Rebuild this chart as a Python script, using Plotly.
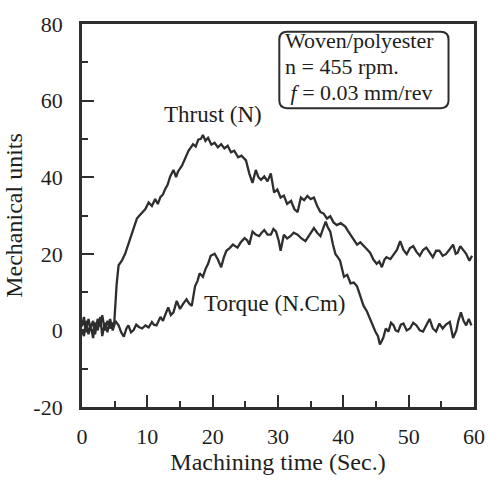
import plotly.graph_objects as go

thrust_t = [0, 0.3, 0.6, 1.0, 1.3, 1.7, 2.0, 2.4, 2.8, 3.1, 3.5, 3.9, 4.3, 4.7, 4.9, 5.3, 5.6, 6.1, 6.6, 7.1,
            7.5, 7.9, 8.4, 8.8, 9.2, 9.7, 10.2, 10.7, 11.2, 11.6, 12.0, 12.4, 12.7, 13.1, 13.5, 14.0, 14.4, 14.7,
            15.3, 15.8, 16.3, 17.0, 17.4, 17.8, 18.2, 18.5, 18.9, 19.3, 19.8, 20.3, 20.8, 21.3, 21.8, 22.3, 22.8,
            23.3, 23.9, 24.4, 25.1, 25.6, 26.1, 26.6, 27.0, 27.4, 27.9, 28.4, 28.9, 29.4, 29.9, 30.4, 30.9, 31.4,
            32.0, 32.5, 33.0, 33.5, 34.0, 34.5, 35.0, 35.5, 36.0, 36.5, 37.0, 37.5, 38.0, 38.5, 39.0, 39.6, 40.3,
            40.7, 41.1, 41.6, 42.1, 42.6, 43.1, 43.6, 44.1, 44.6, 45.1, 45.5, 45.9, 46.3, 46.6, 47.2, 47.7, 48.2,
            48.7, 49.2, 49.7, 50.2, 50.7, 51.2, 51.7, 52.2, 52.7, 53.2, 53.7, 54.2, 54.7, 55.2, 55.7, 56.2, 56.8,
            57.2, 57.5, 57.9, 58.3, 58.8, 59.3, 59.7]
thrust_v = [1.0, 3.5, -0.5, 3.0, 0.5, 2.5, -1.0, 3.0, 1.0, 4.0, 0.0, 2.5, 0.5, 2.0, 1.0, 12.0, 17.0, 18.2, 20.0, 22.4,
            24.5, 26.7, 29.2, 30.0, 30.9, 31.7, 33.4, 32.5, 34.3, 33.0, 34.8, 35.5, 36.8, 38.0, 40.2, 41.9, 40.0, 41.5,
            43.0, 45.2, 46.9, 48.6, 48.0, 49.8, 50.0, 51.0, 49.5, 50.3, 48.5, 49.0, 47.8, 48.6, 47.5, 48.2, 46.5,
            46.9, 45.2, 45.6, 44.4, 41.0, 38.5, 41.9, 40.0, 39.3, 40.2, 38.9, 41.0, 36.0, 36.8, 34.7, 35.2, 33.0,
            33.8, 31.7, 30.9, 34.7, 34.0, 35.1, 34.3, 34.7, 32.5, 30.9, 30.5, 29.2, 29.8, 28.2, 27.5, 28.0, 27.1,
            26.0, 25.0, 23.8, 22.4, 23.0, 22.0, 21.0, 20.3, 18.5, 17.4, 18.0, 16.5, 18.5, 19.1, 18.6, 19.9, 21.0,
            23.3, 21.0, 19.9, 21.5, 22.0, 20.5, 19.5, 21.0, 21.6, 20.3, 19.1, 20.8, 20.8, 19.5, 19.9, 21.0, 22.4,
            20.0, 20.3, 22.0, 21.2, 20.0, 18.2, 19.5]

torque_t = [0, 0.3, 0.6, 1.0, 1.3, 1.7, 2.0, 2.4, 2.8, 3.1, 3.5, 3.9, 4.3, 4.7, 5.1, 5.6, 6.0, 6.4, 6.8, 7.1,
            7.5, 7.9, 8.3, 8.7, 9.2, 9.7, 10.2, 10.7, 11.0, 11.4, 12.0, 12.4, 12.7, 13.2, 13.6, 14.0, 14.5, 15.0,
            15.5, 16.0, 16.4, 16.8, 17.3, 17.7, 18.0, 18.5, 18.9, 19.3, 19.7, 20.3, 20.8, 21.3, 21.7, 22.1, 22.6,
            23.1, 23.8, 24.3, 24.9, 25.3, 25.6, 26.1, 26.6, 27.1, 27.5, 27.9, 28.4, 28.9, 29.3, 29.7, 30.1, 30.4,
            30.9, 31.4, 31.9, 32.4, 33.0, 33.6, 34.2, 34.8, 35.5, 36.0, 36.5, 37.0, 37.3, 37.6, 38.0, 38.4, 38.8,
            39.2, 39.5, 40.1, 40.6, 41.1, 41.6, 42.1, 42.6, 43.1, 43.6, 44.1, 44.5, 44.9, 45.3, 45.6, 46.1, 46.5,
            46.9, 47.3, 47.7, 48.0, 48.4, 48.8, 49.2, 49.7, 50.2, 50.7, 51.2, 51.7, 52.2, 52.7, 53.2, 53.7, 54.2,
            54.7, 55.2, 55.7, 56.3, 56.8, 57.3, 57.6, 58.0, 58.4, 58.8, 59.2, 59.6]
torque_v = [0.0, -1.5, 2.5, -1.0, 1.5, -2.0, 2.0, 0.0, 3.5, -1.5, 2.0, -0.5, 3.0, 0.0, 2.5, 1.3, -0.5, -1.6, 0.5, 1.3,
            -0.5, 0.1, 1.5, 0.9, 0.5, 1.3, 0.8, 2.2, 1.5, 1.3, 3.5, 2.5, 3.9, 6.0, 4.0, 4.7, 7.7, 5.6,
            7.0, 8.1, 7.0, 6.4, 11.5, 13.0, 14.9, 14.0, 16.0, 17.4, 19.5, 20.0, 18.5, 16.5, 19.0, 20.8, 21.5,
            22.4, 21.6, 23.0, 24.1, 23.5, 22.4, 25.8, 25.0, 24.6, 25.5, 26.2, 25.0, 25.0, 26.5, 25.8, 23.5, 20.8,
            25.0, 24.0, 24.6, 25.5, 25.0, 24.0, 23.3, 25.0, 26.7, 25.5, 24.6, 27.0, 28.4, 27.0, 25.8, 22.5, 19.9,
            19.0, 18.2, 14.0, 14.5, 12.3, 12.5, 11.5, 9.0, 6.4, 5.0, 3.0, 1.0, -0.3, -1.5, -3.7, -2.0, 0.5,
            -0.3, 2.0, 1.3, 0.0, -0.3, 1.5, 1.8, 0.0, 0.5, 2.0, 1.3, 0.0, -0.3, 1.5, 3.0, 0.5, -0.3,
            1.8, 0.5, 1.5, 2.2, -2.0, 0.0, 2.5, 4.7, 2.5, 1.3, 3.0, 1.3]

x_ticks = [0, 10, 20, 30, 40, 50, 60]
x_tick_text = ["0", "10", "20", "30", "40", "50", "60"]
y_ticks = [-20, 0, 20, 40, 60, 80]
y_tick_text = ["-20", "0", "20", "40", "60", "80"]

ink = "#2e2e2e"
txt = "#1e1e1e"
font = "Liberation Serif"

fig = go.Figure()
fig.add_trace(go.Scatter(x=thrust_t, y=thrust_v, mode="lines", name="Thrust (N)",
                         line=dict(color=ink, width=2.3)))
fig.add_trace(go.Scatter(x=torque_t, y=torque_v, mode="lines", name="Torque (N.Cm)",
                         line=dict(color=ink, width=2.3)))

axis_common = dict(showgrid=False, zeroline=False, showline=True, linecolor=ink, linewidth=2.8,
                   mirror=True, ticks="inside", tickcolor=ink, tickwidth=2, ticklen=12,
                   tickfont=dict(family=font, size=22, color=txt))
fig.update_xaxes(range=[0, 60], tickvals=x_ticks, ticktext=x_tick_text, ticklabelstandoff=8,
                 minor=dict(dtick=5, ticks="inside", ticklen=6, tickwidth=2, tickcolor=ink),
                 title=dict(text="Machining time (Sec.)", font=dict(family=font, size=24, color=txt),
                            standoff=4),
                 **axis_common)
fig.update_yaxes(range=[-20, 80], tickvals=y_ticks, ticktext=y_tick_text, ticklabelstandoff=12,
                 minor=dict(dtick=10, ticks="inside", ticklen=6, tickwidth=2, tickcolor=ink),
                 title=dict(text="Mechanical units", font=dict(family=font, size=24, color=txt),
                            standoff=4),
                 **axis_common)

# rounded box
x0, x1, y0, y1 = 30.2, 56.1, 58.0, 78.0
rx, ry = 1.2, 2.0
path = (f"M {x0+rx},{y0} L {x1-rx},{y0} Q {x1},{y0} {x1},{y0+ry} L {x1},{y1-ry} "
        f"Q {x1},{y1} {x1-rx},{y1} L {x0+rx},{y1} Q {x0},{y1} {x0},{y1-ry} L {x0},{y0+ry} "
        f"Q {x0},{y0} {x0+rx},{y0} Z")
fig.add_shape(type="path", path=path, xref="x", yref="y", line=dict(color=ink, width=2))

box_lines = ["Woven/polyester", "n = 455 rpm.", " <i>f</i> = 0.03 mm/rev"]
box_y = [75.6, 68.8, 62.0]
for t, yy in zip(box_lines, box_y):
    fig.add_annotation(x=30.8, y=yy, text=t, showarrow=False, xanchor="left", yanchor="middle",
                       font=dict(family=font, size=22, color=txt))

fig.add_annotation(x=20.0, y=56.5, text="Thrust (N)", showarrow=False,
                   font=dict(family=font, size=23, color=txt))
fig.add_annotation(x=29.4, y=6.9, text="Torque (N.Cm)", showarrow=False,
                   font=dict(family=font, size=23, color=txt))

fig.update_layout(width=497, height=482, margin=dict(l=82, r=17, t=17, b=74),
                  plot_bgcolor="white", paper_bgcolor="white", showlegend=False)

fig.write_html("out.html")
